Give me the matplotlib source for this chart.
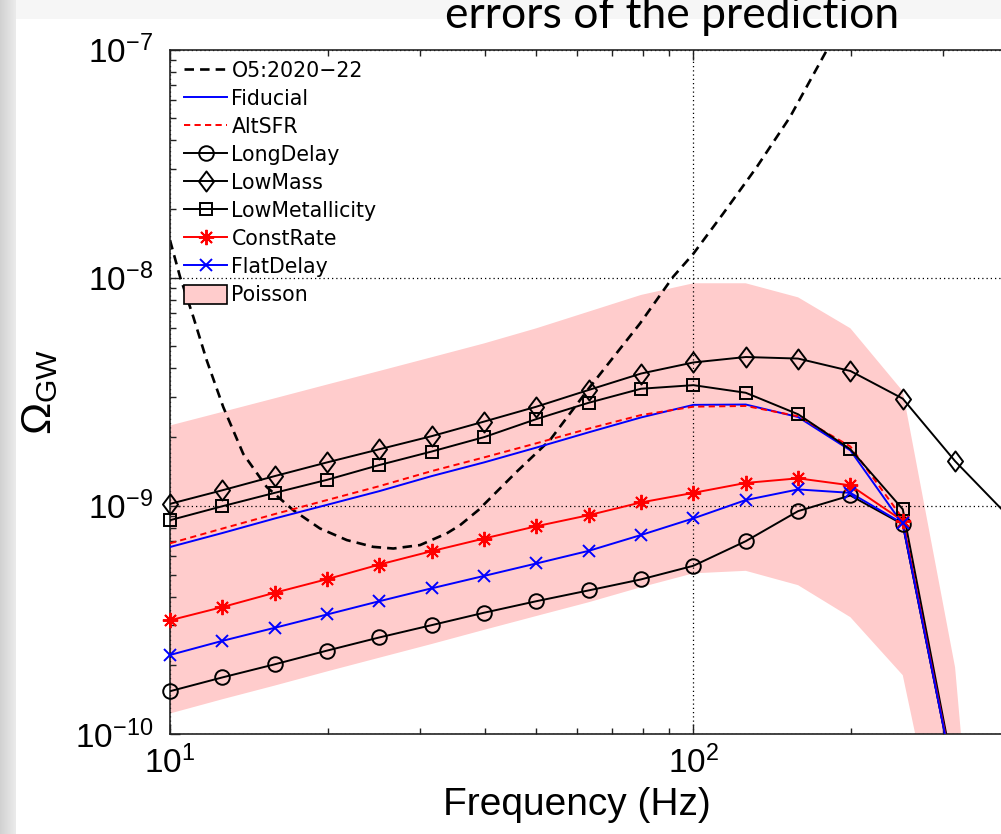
import numpy as np
import matplotlib
matplotlib.use("Agg")
import matplotlib.pyplot as plt
from matplotlib.lines import Line2D
from matplotlib.patches import Patch, Rectangle
from matplotlib.path import Path
from matplotlib.ticker import LogLocator, LogFormatterMathtext, NullFormatter

plt.rcParams['font.family'] = ['Liberation Sans', 'DejaVu Sans']
plt.rcParams['mathtext.fontset'] = 'custom'
plt.rcParams['mathtext.rm'] = 'Liberation Sans'
plt.rcParams['mathtext.it'] = 'Liberation Sans:italic'
plt.rcParams['mathtext.bf'] = 'Liberation Sans:bold'
plt.rcParams['mathtext.default'] = 'regular'

# ---- data -------------------------------------------------------------
freq = [10.0, 12.59, 15.85, 19.95, 25.12, 31.62, 39.81, 50.12, 63.10,
        79.43, 100.0, 125.9, 158.5, 199.5, 251.2, 316.2, 398.1]

fiducial = [6.6e-10, 7.6e-10, 8.8e-10, 1.01e-9, 1.16e-9, 1.35e-9, 1.55e-9,
            1.80e-9, 2.10e-9, 2.44e-9, 2.77e-9, 2.78e-9, 2.45e-9, 1.75e-9,
            8.3e-10, 6.0e-11]
alt_sfr = [6.85e-10, 7.95e-10, 9.2e-10, 1.06e-9, 1.22e-9, 1.42e-9, 1.63e-9,
           1.88e-9, 2.18e-9, 2.50e-9, 2.72e-9, 2.74e-9, 2.47e-9, 1.82e-9,
           8.8e-10, 6.2e-11]
long_delay = [1.54e-10, 1.77e-10, 2.02e-10, 2.32e-10, 2.65e-10, 3.00e-10,
              3.40e-10, 3.82e-10, 4.26e-10, 4.76e-10, 5.46e-10, 7.0e-10,
              9.48e-10, 1.11e-9, 8.3e-10, 6.0e-11]
low_mass = [1.02e-9, 1.17e-9, 1.35e-9, 1.55e-9, 1.77e-9, 2.02e-9, 2.34e-9,
            2.72e-9, 3.22e-9, 3.80e-9, 4.25e-9, 4.49e-9, 4.42e-9, 3.90e-9,
            2.95e-9, 1.57e-9, 9.1e-10]
low_metal = [8.65e-10, 9.96e-10, 1.14e-9, 1.30e-9, 1.51e-9, 1.73e-9, 2.00e-9,
             2.40e-9, 2.83e-9, 3.26e-9, 3.38e-9, 3.13e-9, 2.52e-9, 1.77e-9,
             9.66e-10, 6.3e-11]
const_rate = [3.15e-10, 3.60e-10, 4.16e-10, 4.77e-10, 5.53e-10, 6.33e-10,
              7.19e-10, 8.14e-10, 9.10e-10, 1.035e-9, 1.14e-9, 1.26e-9,
              1.32e-9, 1.23e-9, 8.6e-10, 6.1e-11]
flat_delay = [2.22e-10, 2.56e-10, 2.92e-10, 3.34e-10, 3.82e-10, 4.35e-10,
              4.93e-10, 5.59e-10, 6.35e-10, 7.45e-10, 8.81e-10, 1.06e-9,
              1.18e-9, 1.14e-9, 8.37e-10, 6.0e-11]

# Poisson uncertainty band
poisson_lo = [1.23e-10, 1.42e-10, 1.63e-10, 1.88e-10, 2.16e-10, 2.48e-10,
              2.86e-10, 3.29e-10, 3.78e-10, 4.40e-10, 5.06e-10, 5.19e-10,
              4.49e-10, 3.25e-10, 1.81e-10, 1.5e-11, 1e-13]
poisson_hi = [2.25e-9, 2.58e-9, 2.96e-9, 3.40e-9, 3.90e-9, 4.48e-9, 5.15e-9,
              6.0e-9, 7.1e-9, 8.4e-9, 9.45e-9, 9.45e-9, 8.2e-9, 6.0e-9,
              3.18e-9, 1.96e-10, 5e-13]

# O5 (2020-22) power-law integrated sensitivity curve
o5_freq = [10.0, 10.45, 11.08, 11.75, 12.64, 13.80, 15.30, 17.20, 19.34,
           21.76, 24.45, 26.71, 30.04, 33.78, 35.81, 38.81, 45.95, 53.19,
           63.44, 79.03, 91.5, 99.9, 114.0, 132.1, 152.9, 179.7, 200.0]
o5_omega = [1.46e-8, 1.01e-8, 6.73e-9, 4.35e-9, 2.71e-9, 1.69e-9, 1.21e-9,
            9.57e-10, 7.96e-10, 7.08e-10, 6.61e-10, 6.50e-10, 6.73e-10,
            7.57e-10, 8.22e-10, 9.57e-10, 1.41e-9, 1.94e-9, 3.32e-9, 6.29e-9,
            1.01e-8, 1.27e-8, 1.91e-8, 3.05e-8, 5.05e-8, 9.9e-8, 1.45e-7]

labels = ['O5:2020\u221222', 'Fiducial', 'AltSFR', 'LongDelay', 'LowMass',
          'LowMetallicity', 'ConstRate', 'FlatDelay', 'Poisson']

# ---- figure -------------------------------------------------------------
W, H = 1001, 834
fig = plt.figure(figsize=(W / 100, H / 100), dpi=100)
fig.patch.set_facecolor('white')

# slide backdrop: grey strip on the left, faint band on top
bg = fig.add_axes([0, 0, 1, 1], zorder=-10)
bg.set_xlim(0, W)
bg.set_ylim(H, 0)
bg.axis('off')
grad = np.linspace(0.82, 0.92, 32)[None, :]
bg.imshow(grad, cmap='gray', vmin=0, vmax=1, extent=(0, 16, H, 0), aspect='auto')
bg.add_patch(Rectangle((16, 0), W - 16, 19, color='#f6f6f6', lw=0))
bg.text(672, 28, 'errors of the prediction', family=['Lato', 'DejaVu Sans'],
        fontsize=32, ha='center', va='baseline', color='black')

x0, x1 = 170, W
y_top, y_bot = 49.5, 734
ax = fig.add_axes([x0 / W, 1 - y_bot / H, (x1 - x0) / W, (y_bot - y_top) / H])
ax.set_xscale('log')
ax.set_yscale('log')
ax.set_xlim(10, 387)
ax.set_ylim(1e-10, 1e-7)

ax.fill_between(freq, poisson_lo, poisson_hi, color='#ffcccc', lw=0, zorder=0.3)

dash = (0, (3.6, 2.3))
ax.plot(o5_freq, o5_omega, color='k', lw=1.9, linestyle=dash, zorder=2)

lw = 1.4
diamond = Path([(0, 1), (0.75, 0), (0, -1), (-0.75, 0), (0, 1)],
               [Path.MOVETO, Path.LINETO, Path.LINETO, Path.LINETO, Path.CLOSEPOLY])
asterisk = (8, 2, 0)

series = [
    (fiducial, dict(color='#0000ff', linestyle='-', marker=None, ms=0)),
    (alt_sfr, dict(color='#ff0000', linestyle=(0, (3.2, 2.2)), marker=None, ms=0)),
    (long_delay, dict(color='k', linestyle='-', marker='o', ms=10.5)),
    (low_mass, dict(color='k', linestyle='-', marker=diamond, ms=14.5)),
    (low_metal, dict(color='k', linestyle='-', marker='s', ms=9.0)),
    (const_rate, dict(color='#ff0000', linestyle='-', marker=asterisk, ms=11)),
    (flat_delay, dict(color='#0000ff', linestyle='-', marker='x', ms=8.5)),
]

handles = [Line2D([], [], color='k', lw=1.9, linestyle=dash)]
ymin, ymax = ax.get_ylim()
xmin, xmax = ax.get_xlim()
for vals, st in series:
    f = freq[:len(vals)]
    ax.plot(f, vals, color=st['color'], linestyle=st['linestyle'], lw=lw, zorder=3)
    if st['marker'] is not None:
        keep = [(a, b) for a, b in zip(f, vals) if ymin <= b <= ymax and a <= xmax]
        fm = [a for a, _ in keep]
        vm = [b for _, b in keep]
        ax.plot(fm, vm, linestyle='none', marker=st['marker'], ms=st['ms'],
                mfc='none', mec=st['color'], mew=1.4, clip_on=False, zorder=4)
        handles.append(Line2D([], [], color=st['color'], lw=lw, marker=st['marker'],
                              ms=st['ms'], mfc='none', mec=st['color'], mew=1.4))
    else:
        handles.append(Line2D([], [], color=st['color'], lw=lw, linestyle=st['linestyle']))
handles.append(Patch(facecolor='#ffcccc', edgecolor='k', lw=1.2))

# axes styling
for side in ('left', 'top', 'bottom'):
    ax.spines[side].set_linewidth(1.2)
    ax.spines[side].set_color('#222222')
ax.spines['right'].set_visible(False)

ax.xaxis.set_major_locator(LogLocator(base=10, numticks=10))
ax.xaxis.set_minor_locator(LogLocator(base=10, subs=np.arange(2, 10), numticks=20))
ax.yaxis.set_major_locator(LogLocator(base=10, numticks=10))
ax.yaxis.set_minor_locator(LogLocator(base=10, subs=np.arange(2, 10), numticks=20))
ax.xaxis.set_major_formatter(LogFormatterMathtext())
ax.yaxis.set_major_formatter(LogFormatterMathtext())
ax.xaxis.set_minor_formatter(NullFormatter())
ax.yaxis.set_minor_formatter(NullFormatter())
ax.tick_params(which='both', direction='in', top=True, right=False,
               color='#222222', width=1.0, labelsize=24)
ax.tick_params(which='major', length=7)
ax.tick_params(which='minor', length=4)
ax.tick_params(axis='y', pad=12)
ax.tick_params(axis='x', pad=8)

ax.set_axisbelow(True)
ax.grid(True, which='major', color='k', linestyle=(0, (1, 2.4)), linewidth=0.9)

ax.set_xlabel('Frequency (Hz)', fontsize=28)
ax.xaxis.set_label_coords((577 - x0) / (x1 - x0), -0.077)
ax.set_ylabel(r'$\Omega_{\rm GW}$', fontsize=31)
ax.yaxis.set_label_coords(-(x0 - 60) / (x1 - x0), 0.5)

leg = ax.legend(handles, labels, loc='upper left',
                bbox_to_anchor=(3 / (x1 - x0), 1.0), frameon=False,
                prop={'family': 'DejaVu Sans', 'size': 14.8},
                handlelength=2.1, handleheight=1.0, handletextpad=0.19,
                labelspacing=0.38, borderaxespad=0.3, borderpad=0.25)

fig.savefig('out.png', dpi=100, facecolor=fig.get_facecolor())
